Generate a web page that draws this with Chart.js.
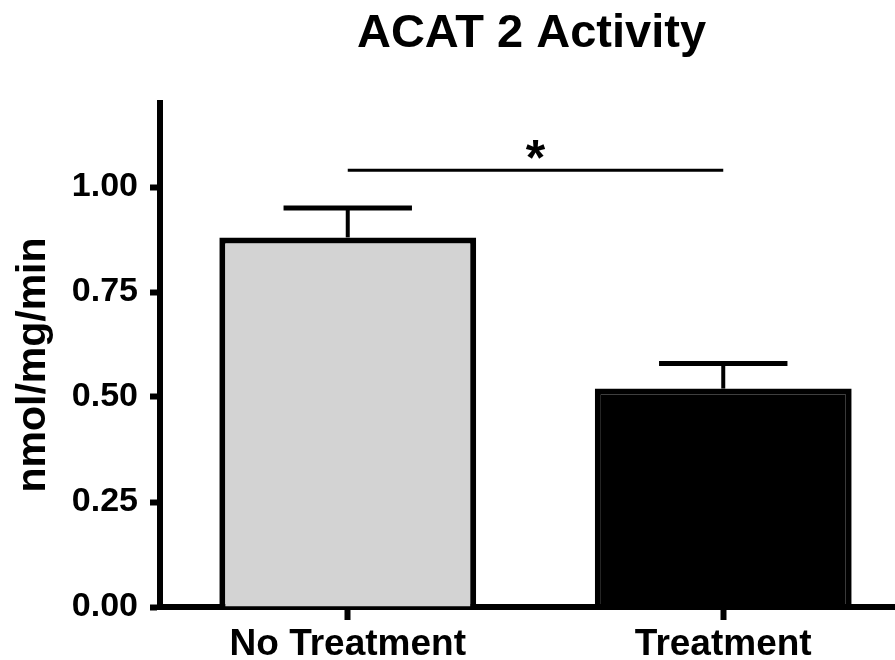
<!DOCTYPE html>
<html><head><meta charset="utf-8">
<script src="https://cdn.jsdelivr.net/npm/chart.js@4.4.1/dist/chart.umd.min.js"></script>
<style>
html,body{margin:0;padding:0;background:#fff;overflow:hidden}
#wrap{width:895px;height:660px;overflow:hidden;position:relative;background:#fff}
canvas{position:absolute;left:0;top:0}
</style></head>
<body><div id="wrap"><canvas id="c" width="911" height="660" style="width:911px;height:660px"></canvas></div>
<script>
const categories = ['No Treatment', 'Treatment'];
const means = [0.88, 0.52];
const sem = [0.07, 0.06];
const barColors = ['#d3d3d3', '#000000'];
const yTicks = [0, 0.25, 0.5, 0.75, 1.0];
const yMin = 0;
const yMax = 1.2;
const sigPair = [0, 1];
const sigLevel = 1.04;
const sigLabel = '*';
const titleText = 'ACAT 2 Activity';
const yTitle = 'nmol/mg/min';

const FAM = '"Liberation Sans", Arial, Helvetica, sans-serif';

const extras = {
  id: 'extras',
  afterDatasetsDraw(chart) {
    const ctx = chart.ctx;
    const meta = chart.getDatasetMeta(0);
    const y = chart.scales.y;
    ctx.save();
    ctx.strokeStyle = '#000';
    ctx.lineCap = 'butt';
    meta.data.forEach((bar, i) => {
      const x = bar.x;
      const yb = y.getPixelForValue(means[i]);
      const yt = y.getPixelForValue(means[i] + sem[i]);
      const half = bar.width * 0.25;
      ctx.lineWidth = 4;
      ctx.beginPath(); ctx.moveTo(x, yb); ctx.lineTo(x, yt); ctx.stroke();
      ctx.lineWidth = 5;
      ctx.beginPath(); ctx.moveTo(x - half, yt); ctx.lineTo(x + half, yt); ctx.stroke();
    });
    // significance
    const x1 = meta.data[sigPair[0]].x, x2 = meta.data[sigPair[1]].x;
    const ys = y.getPixelForValue(sigLevel);
    ctx.lineWidth = 3;
    ctx.beginPath(); ctx.moveTo(x1, ys); ctx.lineTo(x2, ys); ctx.stroke();
    ctx.fillStyle = '#000';
    ctx.font = 'bold 50px ' + FAM;
    ctx.textAlign = 'center';
    ctx.textBaseline = 'alphabetic';
    ctx.fillText(sigLabel, (x1 + x2) / 2, ys + 5);
    ctx.restore();
  },
  afterDraw(chart) {
    const ctx = chart.ctx;
    const ca = chart.chartArea;
    ctx.save();
    ctx.fillStyle = '#000';
    ctx.font = 'bold 47px ' + FAM;
    ctx.textAlign = 'center';
    ctx.textBaseline = 'alphabetic';
    ctx.fillText(titleText, (ca.left + ca.right) / 2 - 4, 47);
    ctx.translate(34, (ca.top + ca.bottom) / 2 + 10);
    ctx.rotate(-Math.PI / 2);
    ctx.font = 'bold 41px ' + FAM;
    ctx.textBaseline = 'middle';
    ctx.fillText(yTitle, 0, 0);
    ctx.restore();
  }
};

new Chart(document.getElementById('c'), {
  type: 'bar',
  data: {
    labels: categories,
    datasets: [{
      data: means,
      backgroundColor: barColors,
      borderColor: '#000',
      borderWidth: 6,
      borderSkipped: 'start',
      barPercentage: 0.684,
      categoryPercentage: 1.0
    }]
  },
  options: {
    responsive: false,
    devicePixelRatio: 1,
    animation: false,
    layout: { padding: { top: 103, left: 0, right: 0, bottom: 0 } },
    plugins: { legend: { display: false }, title: { display: false }, tooltip: { enabled: false } },
    scales: {
      x: {
        z: 1,
        offset: true,
        grid: { display: true, offset: false, drawOnChartArea: false, drawTicks: true, tickLength: 13, tickWidth: 6, tickColor: '#000' },
        border: { display: true, width: 6, color: '#000' },
        ticks: { color: '#000', font: { family: FAM, size: 37, weight: 'bold' }, padding: 3, maxRotation: 0 },
        afterFit: s => { s.height = 53; }
      },
      y: {
        z: 1,
        min: yMin,
        max: yMax,
        afterBuildTicks: s => { s.ticks = yTicks.map(v => ({ value: v })); },
        grid: { display: true, drawOnChartArea: false, drawTicks: true, tickLength: 10, tickWidth: 6, tickColor: '#000' },
        border: { display: true, width: 6, color: '#000' },
        ticks: { color: '#000', font: { family: FAM, size: 34, weight: 'bold' }, padding: 12, callback: v => Number(v).toFixed(2) },
        afterFit: s => { s.width = 160; }
      }
    }
  },
  plugins: [extras]
});
</script>
</body></html>
